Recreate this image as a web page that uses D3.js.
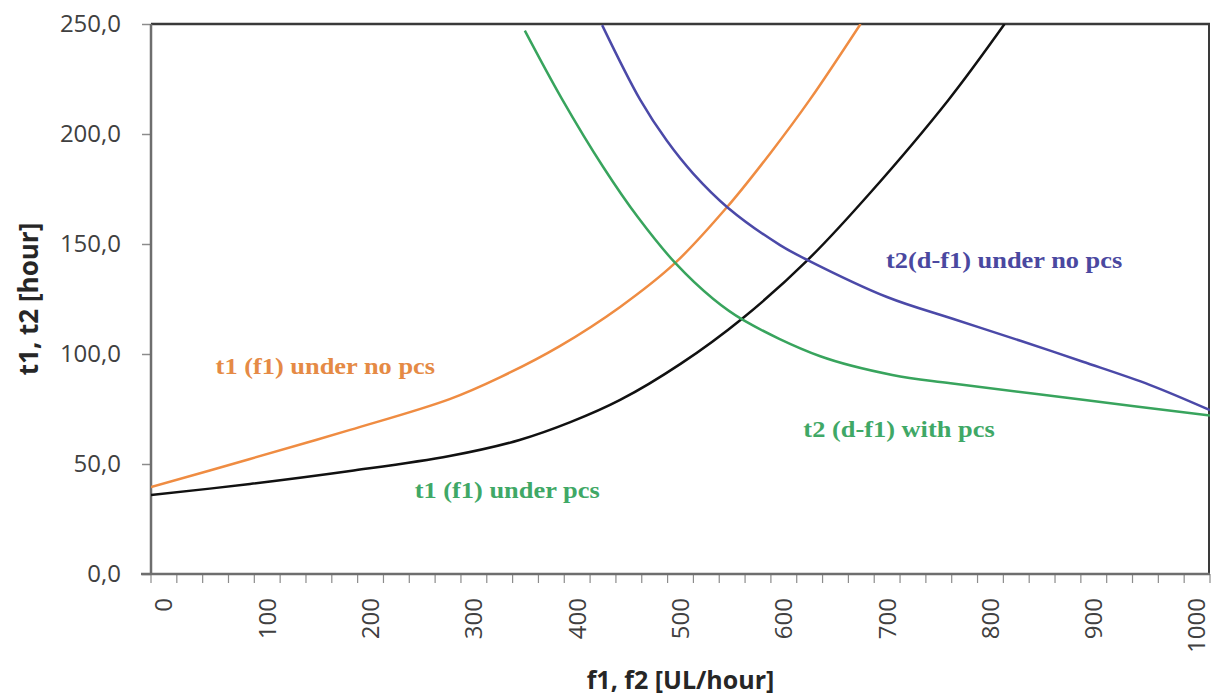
<!DOCTYPE html>
<html><head><meta charset="utf-8">
<script src="https://cdn.jsdelivr.net/npm/d3@7"></script>
<style>body{margin:0;background:#fff} svg{display:block}</style>
</head><body><svg id="c" width="1211" height="697"></svg>
<script>
// ---- data ----
const categories = [0,25,50,75,100,125,150,175,200,225,250,275,300,325,350,375,400,425,450,475,500,525,550,575,600,625,650,675,700,725,750,775,800,825,850,875,900,925,950,975,1000];
const xTickLabels = [0,100,200,300,400,500,600,700,800,900,1000];
const yTicks = [0,50,100,150,200,250];

// t1 (f1) under no pcs  (orange)
const t1NoPcsF = [0, 93.5, 188, 282, 330, 386, 443, 495, 544, 585, 622, 670];
const t1NoPcsT = [39.5, 52.3, 65.5, 79.5, 89.5, 103.6, 121.4, 141.4, 166.8, 191.4, 215.5, 250];
// t1 (f1) under pcs  (black)
const t1PcsF = [0, 93.5, 188, 282, 348, 396, 443, 500, 559, 620, 679, 753, 806];
const t1PcsT = [35.9, 40.9, 46.8, 53.6, 60.9, 69, 79.1, 95.5, 116.4, 142.7, 173.2, 215.5, 250];
// t2 (d-f1) with pcs  (green)
const t2PcsF = [353, 388, 427, 460, 495, 531, 559, 632, 700, 755, 880, 1000];
const t2PcsT = [247, 216, 185, 162, 141.4, 125, 115.5, 99, 90.5, 86.7, 79.2, 72];
// t2(d-f1) under no pcs  (blue)
const t2NoPcsF = [426, 462, 487, 512, 545, 594, 620, 695, 757, 821, 880, 943, 1000];
const t2NoPcsT = [249.5, 215.5, 197, 182, 166.4, 149.5, 142.7, 125.9, 116, 106, 96.5, 86, 74.5];

const seriesNames = ["t1 (f1) under no pcs", "t1 (f1) under pcs", "t2 (d-f1) with pcs", "t2(d-f1) under no pcs"];

// ---- layout ----
const L = 151, R = 1210, T = 24, B = 574;
const svg = d3.select("#c");

const x = d3.scaleLinear().domain([0, 1000]).range([L, R]);
const xBand = d3.scaleBand().domain(categories).range([L, R]).padding(0);
const y = d3.scaleLinear().domain([0, 250]).range([B, T]);

svg.append("defs").append("clipPath").attr("id", "clip")
  .append("rect").attr("x", L).attr("y", T).attr("width", R - L).attr("height", B - T);

// y axis
const yAxis = d3.axisLeft(y).tickValues(yTicks)
  .tickFormat(d => d3.format(".1f")(d).replace(".", ","))
  .tickSize(9).tickPadding(21);
const gy = svg.append("g").attr("transform", `translate(${L},0)`).call(yAxis);
gy.select(".domain").remove();
gy.selectAll(".tick line").attr("stroke", "#8c8c8c").attr("stroke-width", 1.5);
gy.selectAll(".tick text").attr("fill", "#404040")
  .style("font-family", "'Open Sans', sans-serif").style("font-size", "24px");

// x axis: boundary ticks
const boundaries = categories.map(c => xBand(c)).concat([R]);
svg.append("g").selectAll("line").data(boundaries).join("line")
  .attr("x1", d => d).attr("x2", d => d).attr("y1", B).attr("y2", B + 9)
  .attr("stroke", "#8c8c8c").attr("stroke-width", 1.2);

// x axis labels (centered in category band)
const xAxis = d3.axisBottom(xBand).tickValues(xTickLabels).tickSize(0);
const gx = svg.append("g").attr("transform", `translate(0,${B})`).call(xAxis);
gx.select(".domain").remove();
gx.selectAll(".tick text")
  .attr("fill", "#404040")
  .style("font-family", "'Open Sans', sans-serif").style("font-size", "24px")
  .attr("transform", "rotate(-90)")
  .attr("x", -24).attr("y", 0).attr("dy", "0.35em")
  .attr("text-anchor", "end");

// frame
svg.append("line").attr("x1", L).attr("x2", R).attr("y1", T).attr("y2", T)
  .attr("stroke", "#3a3a3a").attr("stroke-width", 2.5);
svg.append("line").attr("x1", R - 1).attr("x2", R - 1).attr("y1", T).attr("y2", B)
  .attr("stroke", "#3a3a3a").attr("stroke-width", 2);
svg.append("line").attr("x1", L).attr("x2", L).attr("y1", T).attr("y2", B)
  .attr("stroke", "#6e6e6e").attr("stroke-width", 2.5);
svg.append("line").attr("x1", L - 10).attr("x2", R).attr("y1", B).attr("y2", B)
  .attr("stroke", "#6e6e6e").attr("stroke-width", 2.5);

// lines
const series = [
  {f: t1NoPcsF, t: t1NoPcsT, color: "#ef8c42"},
  {f: t1PcsF, t: t1PcsT, color: "#111111"},
  {f: t2PcsF, t: t2PcsT, color: "#38a45d"},
  {f: t2NoPcsF, t: t2NoPcsT, color: "#4b49a8"}
];
const line = d3.line().x(d => x(d[0])).y(d => y(d[1])).curve(d3.curveCatmullRom.alpha(0.5));
svg.append("g").attr("clip-path", "url(#clip)").selectAll("path").data(series).join("path")
  .attr("d", s => line(s.f.map((f, i) => [f, s.t[i]])))
  .attr("fill", "none").attr("stroke", s => s.color).attr("stroke-width", 2.5);

// series labels
const labels = [
  {text: seriesNames[0], f: 61, t: 91, color: "#e58a45"},
  {text: seriesNames[1], f: 249, t: 34.5, color: "#3fa866"},
  {text: seriesNames[2], f: 616, t: 62.5, color: "#3fa866"},
  {text: seriesNames[3], f: 694, t: 139, color: "#4a48a0"}
];
svg.append("g").selectAll("text").data(labels).join("text")
  .attr("transform", d => `translate(${x(d.f)},${y(d.t)}) scale(1.1,1)`)
  .attr("fill", d => d.color)
  .style("font-family", "'Liberation Serif', serif").style("font-weight", "bold").style("font-size", "24px")
  .text(d => d.text);

// axis titles
svg.append("text").attr("x", (L + R) / 2).attr("y", 689).attr("text-anchor", "middle")
  .attr("fill", "#262626").style("font-family", "'Open Sans', sans-serif").style("font-weight", "bold").style("font-size", "25px")
  .text("f1, f2 [UL/hour]");
svg.append("text").attr("transform", `translate(38,${(T + B) / 2}) rotate(-90)`).attr("text-anchor", "middle")
  .attr("fill", "#262626").style("font-family", "'Open Sans', sans-serif").style("font-weight", "bold").style("font-size", "26px")
  .text("t1, t2 [hour]");
</script></body></html>
